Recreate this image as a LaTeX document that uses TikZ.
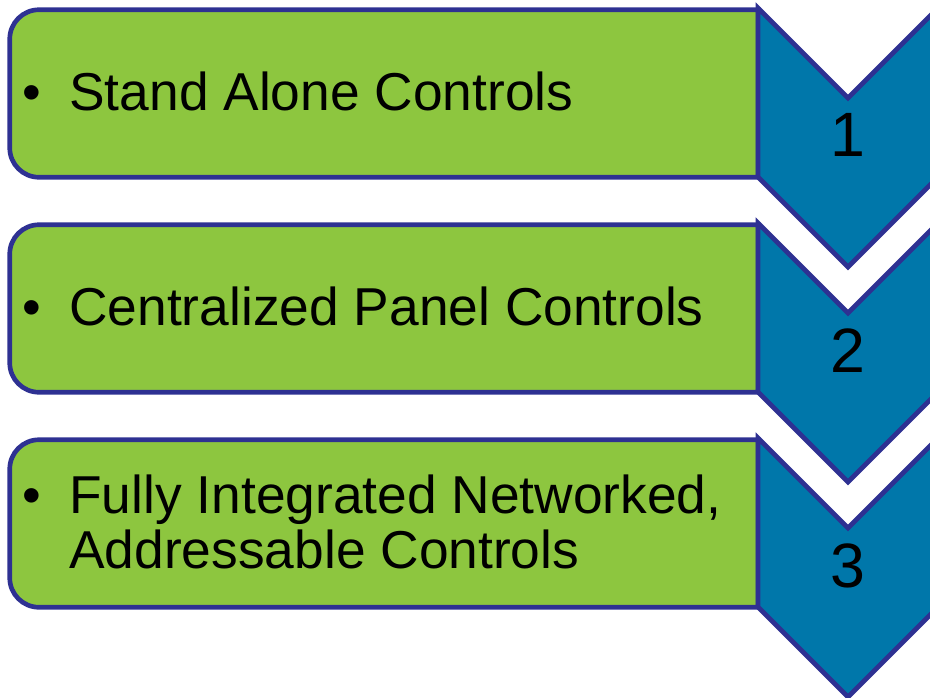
\documentclass[tikz,border=0pt]{standalone}
\usepackage{fontspec}
\setmainfont{Liberation Sans}
\usepackage{xcolor}
\usetikzlibrary{positioning}

\definecolor{stagegreen}{HTML}{8DC63F}
\definecolor{stageblue}{HTML}{0077AA}
\definecolor{stageline}{HTML}{2E3192}

\newcommand{\stageitem}[1]{%
  \begin{tabular}{@{}l@{\hspace{21.5pt}}l@{}}\textbullet & #1\end{tabular}}

\begin{document}
\begin{tikzpicture}[
    x=0.75pt, y=-0.75pt,
    stagebox/.style={inner sep=0pt, minimum width=561pt, minimum height=125.25pt},
    stageframe/.style={draw=stageline, line width=3.5pt, fill=stagegreen},
    stagetext/.style={inner sep=0pt, anchor=west,
        font=\fontsize{40}{40.5}\selectfont},
    chevron/.style={draw=stageline, line width=3.5pt, fill=stageblue},
    stagenum/.style={inner sep=0pt, font=\fontsize{47}{50}\selectfont}
]
    \useasboundingbox (0,0) rectangle (930,697);
    \clip (0,0) rectangle (930,697);

    % green stage boxes, rounded on the left only
    \node[stagebox] (box1) at (384,93.5) {};
    \node[stagebox] (box2) at (384,308.5) {};
    \node[stagebox] (box3) at (384,523.5) {};

    \draw[stageframe] (box1.north east) -- ([xshift=22pt]box1.north west) arc[start angle=90, end angle=180, radius=22pt]
        -- ([yshift=22pt]box1.south west) arc[start angle=180, end angle=270, radius=22pt] -- (box1.south east) -- cycle;
    \draw[stageframe] (box2.north east) -- ([xshift=22pt]box2.north west) arc[start angle=90, end angle=180, radius=22pt]
        -- ([yshift=22pt]box2.south west) arc[start angle=180, end angle=270, radius=22pt] -- (box2.south east) -- cycle;
    \draw[stageframe] (box3.north east) -- ([xshift=22pt]box3.north west) arc[start angle=90, end angle=180, radius=22pt]
        -- ([yshift=22pt]box3.south west) arc[start angle=180, end angle=270, radius=22pt] -- (box3.south east) -- cycle;

    \node[stagetext, right=9pt of box1.west, yshift=-4.5pt] (txt1) {\stageitem{Stand Alone Controls}};
    \node[stagetext, right=9pt of box2.west, yshift=-4.5pt] (txt2) {\stageitem{Centralized Panel Controls}};
    \node[stagetext, right=9pt of box3.west, yshift=-4.5pt] (txt3) {\stageitem{Fully Integrated Networked,\\ & Addressable Controls}};

    % blue chevrons
    \draw[chevron] (758,8) -- ++(90,90) -- ++(90,-90) -- ++(0,169) -- ++(-90,90) -- ++(-90,-90) -- cycle;
    \draw[chevron] (758,223) -- ++(90,90) -- ++(90,-90) -- ++(0,169) -- ++(-90,90) -- ++(-90,-90) -- cycle;
    \draw[chevron] (758,438) -- ++(90,90) -- ++(90,-90) -- ++(0,169) -- ++(-90,90) -- ++(-90,-90) -- cycle;

    \node[stagenum] (num1) at (848,135) {1};
    \node[stagenum] (num2) at (848,351) {2};
    \node[stagenum] (num3) at (848,566) {3};
\end{tikzpicture}
\end{document}
